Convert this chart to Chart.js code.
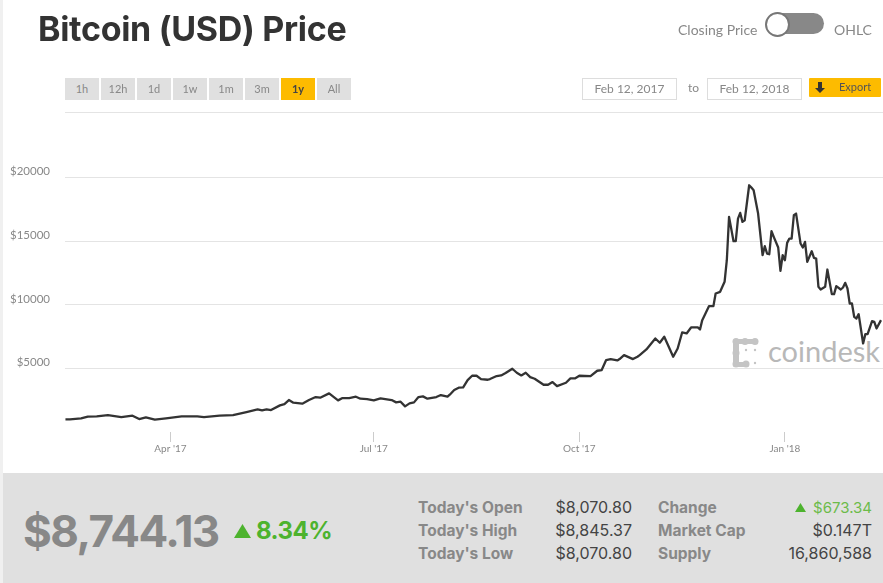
<!DOCTYPE html>
<html>
<head>
<meta charset="utf-8">
<title>Bitcoin (USD) Price</title>
<script src="https://cdn.jsdelivr.net/npm/chart.js@4/dist/chart.umd.min.js"></script>
<style>
    html, body { margin: 0; padding: 0; background: #fff; }
    body { position: relative; width: 883px; height: 583px; overflow: hidden; font-family: Lato, "Open Sans", sans-serif; color: #888; }
    .abs { position: absolute; white-space: nowrap; }
    #strip { position: absolute; left: 0; top: 0; width: 3px; height: 583px; background: #f0f0f0; }
    #chart-wrap { position: absolute; left: 0; top: 0; width: 883px; height: 473px; }
    #title { left: 38px; top: 7px; font-family: Inter, sans-serif; font-size: 34px; line-height: 44px; font-weight: 700; letter-spacing: -0.3px; color: #333; }
    .range { position: absolute; top: 78px; width: 34px; height: 22px; line-height: 22px; text-align: center; background: #e0e0e0; font-size: 11px; color: #888; }
    .range.on { background: #fdbb00; color: #444; font-weight: 700; }
    .datebox { position: absolute; top: 78px; width: 93px; height: 20px; line-height: 20px; border: 1px solid #ddd; text-align: center; font-size: 12px; color: #888; }
    #rule { position: absolute; left: 65px; top: 112px; width: 818px; height: 1px; background: #e4e4e4; }
    #export { position: absolute; left: 809px; top: 78px; width: 72px; height: 19px; background: #fdbb00; border-radius: 1px; }
    #toggle { position: absolute; left: 767px; top: 13px; width: 57px; height: 21px; border-radius: 11px; background: #888; }
    #knob { position: absolute; left: 765px; top: 12px; width: 21px; height: 21px; border-radius: 50%; background: #fff; border: 2px solid #777; }
    #footer { position: absolute; left: 3px; top: 473px; width: 880px; height: 110px; background: #e0e0e0; }
    .lbl { font-family: Inter, sans-serif; font-size: 15.5px; font-weight: 700; color: #888; }
    .val { font-family: Inter, sans-serif; font-size: 16px; line-height: 19px; color: #444; text-align: right; }
</style>
</head>
<body>
<div id="strip"></div>

<svg class="abs" style="left:725px;top:330px" width="158" height="45" viewBox="0 0 158 45">
    <g fill="#c4c4c4">
        <rect x="8" y="9" width="25" height="5" rx="2.5"/>
        <rect x="8" y="9" width="6" height="28" rx="3"/>
        <rect x="8" y="32" width="16" height="5" rx="2.5"/>
        <circle cx="11" cy="11.5" r="3.5"/>
        <circle cx="20" cy="11.5" r="3.5"/>
        <circle cx="30" cy="11.5" r="3.5"/>
        <circle cx="11" cy="23" r="3.5"/>
        <circle cx="11" cy="34" r="3.5"/>
        <circle cx="21" cy="34" r="3.5"/>
        <circle cx="21" cy="20" r="1.2"/>
        <circle cx="30" cy="20" r="1.2"/>
        <circle cx="30" cy="33" r="1.2"/>
    </g>
    <text x="43" y="32" font-family="Lato" font-size="29" fill="#b8b8b8">coindesk</text>
</svg>

<div id="chart-wrap"><canvas id="price-chart" width="883" height="473"></canvas></div>

<div class="abs" id="title">Bitcoin (USD) Price</div>
<div class="abs" style="left:678px;top:21px;font-size:14px">Closing Price</div>
<div id="toggle"></div><div id="knob"></div>
<div class="abs" style="left:834px;top:21px;font-size:14px">OHLC</div>

<div id="ranges"></div>
<div class="datebox" style="left:582px">Feb 12, 2017</div>
<div class="abs" style="left:688px;top:80px;font-size:12px">to</div>
<div class="datebox" style="left:707px">Feb 12, 2018</div>
<div id="export"></div>
<svg class="abs" style="left:814px;top:82px" width="12" height="12" viewBox="0 0 12 12"><path d="M4 0h4v6h3l-5 5-5-5h3z" fill="#333"/></svg>
<div class="abs" style="left:839px;top:80px;font-size:11px;color:#555">Export</div>
<div id="rule"></div>

<div id="footer"></div>
<div class="abs" style="left:23px;top:503px;font-family:Inter,sans-serif;font-size:44px;line-height:56px;font-weight:700;color:#888;letter-spacing:-1.5px">$8,744.13</div>
<svg class="abs" style="left:234px;top:524px" width="17" height="15"><path d="M8.5 0L17 14H0z" fill="#4db32e"/></svg>
<div class="abs" style="left:256px;top:516px;font-family:Inter,sans-serif;font-size:24px;line-height:30px;font-weight:700;color:#4db32e;letter-spacing:-0.5px">8.34%</div>

<div class="abs lbl" style="left:418px;top:498px">Today's Open</div>
<div class="abs lbl" style="left:418px;top:521px">Today's High</div>
<div class="abs lbl" style="left:418px;top:544px">Today's Low</div>
<div class="abs val" style="right:251px;top:498px">$8,070.80</div>
<div class="abs val" style="right:251px;top:521px">$8,845.37</div>
<div class="abs val" style="right:251px;top:544px">$8,070.80</div>
<div class="abs lbl" style="left:658px;top:498px">Change</div>
<div class="abs lbl" style="left:658px;top:521px">Market Cap</div>
<div class="abs lbl" style="left:658px;top:544px">Supply</div>
<svg class="abs" style="left:795px;top:503px" width="11" height="9"><path d="M5.5 0L11 9H0z" fill="#4db32e"/></svg>
<div class="abs val" style="right:11px;top:498px;color:#6cbb4a;font-size:15px">$673.34</div>
<div class="abs val" style="right:11px;top:521px">$0.147T</div>
<div class="abs val" style="right:11px;top:544px">16,860,588</div>

<script>
    const rangeLabels = ['1h', '12h', '1d', '1w', '1m', '3m', '1y', 'All'];
    const activeRange = '1y';

    // Jours depuis le 12 fév. 2017 et prix de clôture correspondants
    const days = [
        1, 3, 8, 11, 15, 20, 26, 31, 34, 37, 41, 46, 53, 60, 63, 70, 76, 82, 87, 89, 91, 93, 97, 99, 101, 103, 107, 110, 113,
        115, 119, 123, 125, 128, 131, 133, 136, 139, 142, 147, 149, 151, 153, 155, 157, 159, 161, 163, 167, 169, 172, 173, 175, 177, 179,
        181, 183, 185, 187, 190, 191, 194, 196, 198, 201, 203, 205, 207, 209, 211, 215, 217, 219, 221, 225, 227, 229, 231, 236, 239, 241,
        243, 245, 248, 249, 251, 255, 257,
        258, 261, 265, 267, 269, 273, 275, 277, 279, 281, 284, 285, 286, 289, 291, 292, 294, 296, 297, 298, 300, 301, 302, 303, 304, 305,
        307, 308, 309, 311, 313, 314, 315, 316, 317, 318, 320, 321, 322, 323, 324, 325, 326, 327, 328, 330, 331, 332, 333, 335, 336, 337,
        338, 339, 341, 342, 344, 345, 346, 348, 349, 350, 351, 352, 353, 354, 355, 356, 358, 359, 360, 362, 363, 364, 366
    ];
    const closePrices = [
        994, 994, 1073, 1203, 1230, 1334, 1177, 1282, 1020, 1151, 968, 1073, 1230, 1230, 1177, 1282, 1334, 1570, 1780, 1701, 1780, 1727, 2094, 2199, 2513, 2303, 2225, 2513, 2748,
        2696, 3035, 2486, 2669, 2669, 2774, 2617, 2590, 2486, 2643, 2512, 2329, 2381, 2014, 2250, 2329, 2748, 2800, 2617, 2748, 2905, 2774, 2931, 3297, 3481, 3507,
        4083, 4423, 4423, 4161, 4109, 4161, 4397, 4449, 4633, 4973, 4659, 4449, 4659, 4318, 4187, 3716, 3716, 3926, 3612, 3873, 4213, 4213, 4423, 4397, 4816, 4868,
        5654, 5732, 5627, 5732, 6045, 5732, 5916,
        6045, 6490, 7354, 7014, 7485, 5914, 6569, 7825, 7747, 8218, 8218, 8061, 8794, 9894, 9894, 10888, 11019, 11805, 13506, 16910, 14999, 14999, 16779, 17224, 16517, 16648,
        19397, 19214, 19004, 17172, 13899, 14606, 14030, 13978, 15784, 15339, 14501, 12669, 13899, 13506, 14868, 15208, 15208, 17041, 17172, 14815, 14501, 14946, 13376, 14213, 13690, 13637,
        11412, 11203, 11412, 12773, 10836, 10836, 11464, 11203, 11360, 11726, 11281, 10103, 10103, 9056, 8925, 9265, 6961, 7694, 7694, 8715, 8663, 8139, 8794
    ];

    // Graduations
    const priceTicks = [5000, 10000, 15000, 20000];
    const monthDays = [48, 139, 231, 323];
    const monthLabels = ["Apr '17", "Jul '17", "Oct '17", "Jan '18"];

    // Boutons de période
    const rangesEl = document.getElementById('ranges');
    rangeLabels.forEach((label, i) => {
        const btn = document.createElement('div');
        btn.className = 'range' + (label === activeRange ? ' on' : '');
        btn.style.left = (65 + i * 36) + 'px';
        btn.textContent = label;
        rangesEl.appendChild(btn);
    });

    Chart.defaults.font.family = 'Lato, "Open Sans", sans-serif';

    new Chart(document.getElementById('price-chart').getContext('2d'), {
        type: 'line',
        data: {
            datasets: [{
                label: 'Bitcoin (USD)',
                data: days.map((d, i) => ({ x: d, y: closePrices[i] })),
                borderColor: '#333333',
                borderWidth: 2.3,
                borderJoinStyle: 'round',
                pointRadius: 0,
                tension: 0
            }]
        },
        options: {
            responsive: false,
            animation: false,
            parsing: false,
            layout: { padding: { top: 114, right: 0, left: 0, bottom: 0 } },
            plugins: { legend: { display: false }, tooltip: { enabled: false } },
            scales: {
                x: {
                    type: 'linear',
                    min: 0.8,
                    max: 366.9,
                    border: { display: false },
                    grid: { drawOnChartArea: false, tickLength: 10, color: '#cccccc' },
                    ticks: {
                        autoSkip: false,
                        maxRotation: 0,
                        padding: 1,
                        color: '#888888',
                        font: { size: 10 },
                        callback: value => monthLabels[monthDays.indexOf(value)]
                    },
                    afterBuildTicks: axis => { axis.ticks = monthDays.map(value => ({ value })); },
                    afterFit: axis => { axis.height = 41; }
                },
                y: {
                    min: 0,
                    max: 25000,
                    border: { display: false },
                    grid: { drawTicks: false, color: '#e4e4e4' },
                    ticks: {
                        padding: 15,
                        labelOffset: -6,
                        color: '#888888',
                        font: { size: 11.5 },
                        callback: value => '$' + value
                    },
                    afterBuildTicks: axis => { axis.ticks = priceTicks.map(value => ({ value })); },
                    afterFit: axis => { axis.width = 65; }
                }
            }
        }
    });
</script>
</body>
</html>
